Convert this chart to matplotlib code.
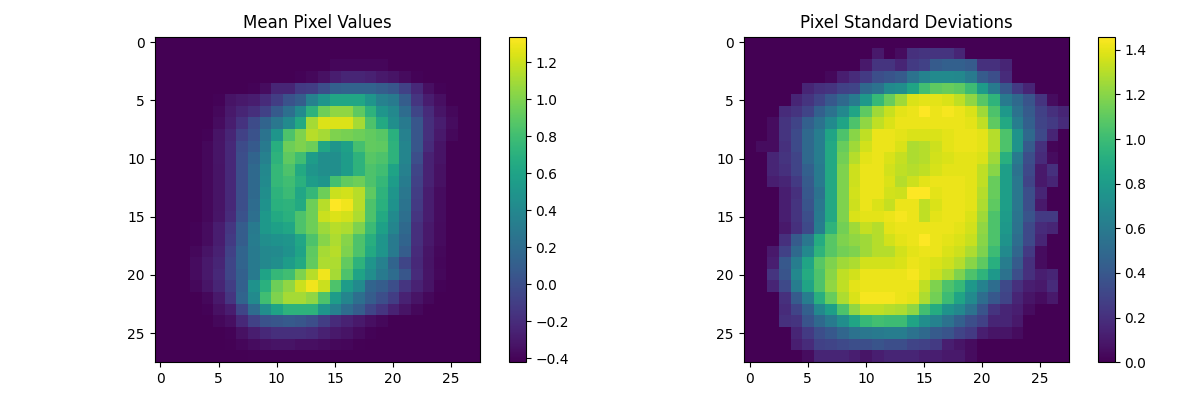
import numpy as np
import matplotlib
matplotlib.use("Agg")
import matplotlib.pyplot as plt

mean_pixels = [
    [-.42,-.42,-.42,-.42,-.42,-.42,-.42,-.42,-.42,-.42,-.42,-.42,-.42,-.42,-.42,-.42,-.42,-.42,-.42,-.42,-.42,-.42,-.42,-.42,-.42,-.42,-.42,-.42],
    [-.42,-.42,-.42,-.42,-.42,-.42,-.42,-.42,-.42,-.42,-.42,-.42,-.42,-.42,-.42,-.42,-.42,-.42,-.42,-.42,-.42,-.42,-.42,-.42,-.42,-.42,-.42,-.42],
    [-.42,-.42,-.42,-.42,-.42,-.42,-.42,-.42,-.42,-.42,-.42,-.42,-.42,-.42,-.42,-.39,-.39,-.39,-.39,-.39,-.42,-.42,-.42,-.42,-.42,-.42,-.42,-.42],
    [-.42,-.42,-.42,-.42,-.42,-.42,-.42,-.42,-.42,-.42,-.42,-.42,-.40,-.38,-.34,-.28,-.24,-.24,-.26,-.30,-.33,-.37,-.40,-.42,-.42,-.42,-.42,-.42],
    [-.42,-.42,-.42,-.42,-.42,-.42,-.42,-.42,-.40,-.36,-.24,-.24,-.12,-.10,0.00,0.12,0.14,0.14,0.14,0.10,0.05,-.08,-.22,-.35,-.40,-.42,-.42,-.42],
    [-.42,-.42,-.42,-.42,-.42,-.40,-.33,-.30,-.28,-.20,-.10,0.02,0.10,0.35,0.50,0.62,0.62,0.62,0.50,0.35,0.30,0.10,-.15,-.28,-.35,-.42,-.42,-.42],
    [-.42,-.42,-.42,-.42,-.42,-.38,-.30,-.24,-.18,-.08,0.08,0.22,0.42,0.72,0.95,1.05,1.05,0.90,0.72,0.50,0.40,0.20,-.05,-.20,-.32,-.38,-.42,-.42],
    [-.42,-.42,-.42,-.42,-.42,-.36,-.28,-.16,-.02,0.15,0.28,0.42,0.65,1.10,1.25,1.25,1.25,1.10,0.85,0.65,0.45,0.30,0.05,-.18,-.28,-.36,-.42,-.42],
    [-.42,-.42,-.42,-.42,-.40,-.33,-.24,-.08,0.02,0.25,0.50,0.85,1.00,1.15,1.10,1.00,0.98,0.95,0.92,0.88,0.70,0.35,0.05,-.18,-.30,-.38,-.42,-.42],
    [-.42,-.42,-.42,-.42,-.38,-.32,-.22,-.02,0.08,0.30,0.68,0.95,1.00,0.95,0.62,0.50,0.58,0.82,0.92,0.90,0.72,0.38,0.05,-.20,-.33,-.42,-.42,-.42],
    [-.42,-.42,-.42,-.42,-.38,-.32,-.22,0.00,0.15,0.35,0.72,0.90,0.80,0.55,0.45,0.45,0.55,0.72,0.88,0.85,0.72,0.38,0.00,-.25,-.33,-.42,-.42,-.42],
    [-.42,-.42,-.42,-.42,-.38,-.33,-.22,0.00,0.18,0.40,0.75,0.85,0.65,0.50,0.45,0.45,0.55,0.72,0.85,0.80,0.60,0.35,-.05,-.25,-.34,-.42,-.42,-.42],
    [-.42,-.42,-.42,-.42,-.38,-.33,-.22,0.00,0.18,0.42,0.75,0.80,0.70,0.55,0.50,0.82,0.92,0.95,0.85,0.75,0.55,0.32,-.08,-.25,-.34,-.42,-.42,-.42],
    [-.42,-.42,-.42,-.42,-.38,-.33,-.22,0.00,0.18,0.45,0.72,0.78,0.62,0.75,0.95,1.20,1.22,1.15,0.90,0.72,0.50,0.28,-.10,-.28,-.36,-.42,-.42,-.42],
    [-.42,-.42,-.42,-.42,-.38,-.33,-.22,0.00,0.20,0.48,0.70,0.72,0.65,0.95,1.15,1.34,1.30,1.15,0.85,0.70,0.48,0.25,-.12,-.28,-.36,-.42,-.42,-.42],
    [-.42,-.42,-.42,-.42,-.38,-.32,-.20,0.02,0.22,0.52,0.65,0.70,0.85,0.95,1.20,1.25,1.22,1.12,0.85,0.65,0.42,0.22,-.15,-.28,-.36,-.42,-.42,-.42],
    [-.42,-.42,-.42,-.40,-.36,-.28,-.14,0.10,0.30,0.52,0.58,0.62,0.85,0.95,1.08,1.15,1.12,1.00,0.78,0.58,0.38,0.18,-.18,-.30,-.37,-.42,-.42,-.42],
    [-.42,-.42,-.42,-.40,-.36,-.28,-.12,0.10,0.32,0.45,0.48,0.50,0.62,0.85,1.02,1.12,1.02,0.85,0.68,0.50,0.30,0.15,-.18,-.30,-.37,-.42,-.42,-.42],
    [-.42,-.42,-.42,-.38,-.33,-.26,-.08,0.15,0.30,0.40,0.42,0.48,0.60,0.90,1.10,1.15,1.00,0.85,0.65,0.50,0.30,0.10,-.20,-.32,-.38,-.42,-.42,-.42],
    [-.42,-.42,-.42,-.36,-.30,-.24,-.05,0.15,0.30,0.40,0.45,0.55,0.65,0.92,1.12,1.12,0.92,0.72,0.50,0.35,0.15,-.05,-.22,-.33,-.39,-.42,-.42,-.42],
    [-.42,-.42,-.42,-.36,-.30,-.22,-.05,0.12,0.30,0.60,0.75,0.80,1.00,1.15,1.30,1.10,0.85,0.60,0.45,0.30,0.20,0.05,-.20,-.32,-.38,-.42,-.42,-.42],
    [-.42,-.42,-.42,-.38,-.32,-.24,-.10,0.12,0.48,0.70,0.95,1.05,1.20,1.30,1.20,0.85,0.55,0.42,0.15,0.10,0.00,-.15,-.25,-.33,-.40,-.42,-.42,-.42],
    [-.42,-.42,-.42,-.42,-.38,-.30,-.15,0.15,0.42,0.80,1.00,1.10,1.10,1.05,0.85,0.55,0.38,0.22,0.10,0.00,-.10,-.25,-.33,-.38,-.42,-.42,-.42,-.42],
    [-.42,-.42,-.42,-.42,-.40,-.34,-.28,-.05,0.20,0.45,0.60,0.72,0.72,0.72,0.50,0.35,0.20,0.10,-.05,-.15,-.25,-.33,-.38,-.42,-.42,-.42,-.42,-.42],
    [-.42,-.42,-.42,-.42,-.42,-.38,-.35,-.22,-.08,0.02,0.05,0.08,0.05,0.00,-.10,-.20,-.25,-.30,-.35,-.38,-.42,-.42,-.42,-.42,-.42,-.42,-.42,-.42],
    [-.42,-.42,-.42,-.42,-.42,-.42,-.40,-.34,-.28,-.22,-.18,-.18,-.18,-.20,-.26,-.30,-.33,-.37,-.40,-.42,-.42,-.42,-.42,-.42,-.42,-.42,-.42,-.42],
    [-.42,-.42,-.42,-.42,-.42,-.42,-.41,-.39,-.36,-.34,-.33,-.33,-.35,-.35,-.36,-.38,-.39,-.41,-.42,-.42,-.42,-.42,-.42,-.42,-.42,-.42,-.42,-.42],
    [-.42,-.42,-.42,-.42,-.42,-.42,-.42,-.42,-.41,-.41,-.41,-.41,-.41,-.41,-.41,-.42,-.42,-.42,-.42,-.42,-.42,-.42,-.42,-.42,-.42,-.42,-.42,-.42],
]

std_pixels = [
    [0,0,0,0,0,0,0,0,0,0,0,0,0,0,0,0,0,0,0,0,0,0,0,0,0,0,0,0],
    [0,0,0,0,0,0,0,0,0,0,0,.10,0,.05,.20,.22,.22,.22,.15,0,0,0,0,0,0,0,0,0],
    [0,0,0,0,0,0,0,0,0,0,.10,.22,.22,.15,.25,.28,.42,.45,.45,.42,.20,.20,.15,0,0,0,0,0],
    [0,0,0,0,0,0,0,.03,.12,.18,.25,.35,.38,.42,.55,.65,.70,.70,.68,.60,.42,.35,.18,0,0,0,0,0],
    [0,0,0,0,0,.15,.20,.22,.28,.30,.50,.55,.70,.72,.85,1.02,1.10,1.12,1.10,1.00,.80,.60,.40,.25,.15,0,0,0],
    [0,0,0,0,.15,.22,.30,.40,.50,.60,.78,.98,1.12,1.25,1.38,1.40,1.40,1.38,1.32,1.22,1.08,.95,.60,.50,.38,.22,.05,0],
    [0,0,0,.18,.22,.30,.45,.55,.68,.85,1.10,1.25,1.34,1.40,1.42,1.46,1.42,1.44,1.42,1.38,1.25,1.05,.78,.55,.42,.28,.20,.15],
    [0,0,.05,.22,.30,.45,.55,.70,.85,1.05,1.22,1.32,1.38,1.42,1.42,1.42,1.42,1.42,1.42,1.40,1.32,1.10,.88,.62,.45,.30,.25,.18],
    [0,0,.05,.22,.33,.50,.62,.85,1.05,1.20,1.32,1.42,1.42,1.40,1.38,1.38,1.38,1.40,1.42,1.42,1.40,1.30,1.05,.75,.50,.32,.15,0],
    [0,.05,.05,.20,.33,.50,.62,.88,1.12,1.25,1.36,1.42,1.42,1.38,1.28,1.30,1.35,1.40,1.42,1.42,1.40,1.30,1.05,.75,.42,.20,.02,0],
    [0,0,.15,.22,.30,.50,.62,.88,1.15,1.30,1.40,1.42,1.38,1.33,1.28,1.30,1.36,1.38,1.40,1.40,1.38,1.25,.92,.60,.35,.18,.05,0],
    [0,0,.15,.20,.30,.45,.60,.88,1.18,1.35,1.42,1.42,1.36,1.32,1.30,1.32,1.37,1.40,1.40,1.40,1.32,1.20,.82,.55,.32,.10,.20,0],
    [0,0,.12,.15,.25,.42,.60,.88,1.18,1.35,1.42,1.42,1.38,1.30,1.35,1.40,1.42,1.42,1.42,1.40,1.32,1.12,.82,.58,.30,.10,.15,0],
    [0,0,0,.12,.20,.40,.55,.88,1.18,1.36,1.42,1.42,1.36,1.35,1.46,1.46,1.40,1.42,1.42,1.40,1.30,1.12,.82,.58,.35,.15,0,0],
    [0,0,0,.12,.22,.38,.58,.88,1.18,1.35,1.42,1.38,1.33,1.42,1.42,1.32,1.38,1.42,1.42,1.40,1.28,1.10,.82,.58,.35,.10,0,0],
    [0,0,0,.12,.22,.35,.60,.88,1.18,1.38,1.40,1.40,1.42,1.44,1.42,1.32,1.40,1.42,1.42,1.38,1.25,1.05,.80,.56,.38,.25,.25,0],
    [0,0,0,.10,.20,.32,.62,.95,1.15,1.25,1.33,1.30,1.40,1.42,1.42,1.42,1.42,1.42,1.40,1.36,1.22,1.05,.78,.55,.32,.18,.15,0],
    [0,0,0,.20,.42,.58,.90,1.08,1.18,1.22,1.25,1.30,1.36,1.40,1.42,1.46,1.42,1.40,1.38,1.34,1.20,1.05,.75,.52,.32,.15,0,0],
    [0,0,.10,.28,.50,.68,.95,1.08,1.15,1.18,1.25,1.30,1.30,1.36,1.40,1.42,1.42,1.38,1.35,1.28,1.18,1.00,.70,.48,.25,.05,0,0],
    [0,0,.12,.40,.62,.85,1.08,1.18,1.25,1.28,1.36,1.36,1.36,1.38,1.42,1.40,1.38,1.35,1.30,1.20,1.10,.92,.62,.42,.20,.05,0,0],
    [0,0,.22,.38,.68,.90,1.05,1.20,1.32,1.36,1.42,1.42,1.42,1.42,1.44,1.40,1.35,1.28,1.18,1.05,.95,.78,.55,.35,.20,.12,.15,0],
    [0,0,.15,.32,.62,.85,1.05,1.22,1.32,1.40,1.42,1.42,1.42,1.42,1.42,1.32,1.18,1.05,.98,.78,.65,.52,.32,.20,.12,.10,.18,0],
    [0,0,0,.20,.42,.62,.92,1.12,1.28,1.38,1.44,1.44,1.44,1.42,1.40,1.28,1.15,1.00,.85,.70,.52,.40,.30,.15,.08,.05,.10,0],
    [0,0,0,.18,.30,.45,.68,.82,1.05,1.22,1.32,1.32,1.30,1.28,1.22,1.02,.90,.75,.68,.55,.38,.22,.15,.12,.05,0,0,0],
    [0,0,0,.20,.22,.38,.50,.60,.72,.85,.98,1.02,1.00,1.00,.85,.72,.65,.55,.45,.35,.28,.15,.15,.10,0,0,0,0],
    [0,0,0,0,.15,.25,.35,.40,.48,.55,.58,.60,.62,.62,.55,.50,.42,.38,.30,.25,.12,.08,.08,.05,0,0,0,0],
    [0,0,0,0,.12,.18,.28,.30,.32,.35,.35,.38,.35,.35,.30,.28,.25,.12,.08,.05,0,0,0,0,0,0,0,0],
    [0,0,0,0,0,.05,.15,.15,.15,.12,.08,.12,.15,.15,.15,.12,.12,.10,.10,.05,0,0,0,0,0,0,0,0],
]

titles = ["Mean Pixel Values", "Pixel Standard Deviations"]

fig, axes = plt.subplots(1, 2, figsize=(12, 4))

for ax, data, title in zip(axes, [mean_pixels, std_pixels], titles):
    im = ax.imshow(np.array(data), cmap="viridis")
    ax.set_title(title)
    fig.colorbar(im, ax=ax)

plt.tight_layout(pad=1.02)
plt.savefig("out.png", dpi=100)
